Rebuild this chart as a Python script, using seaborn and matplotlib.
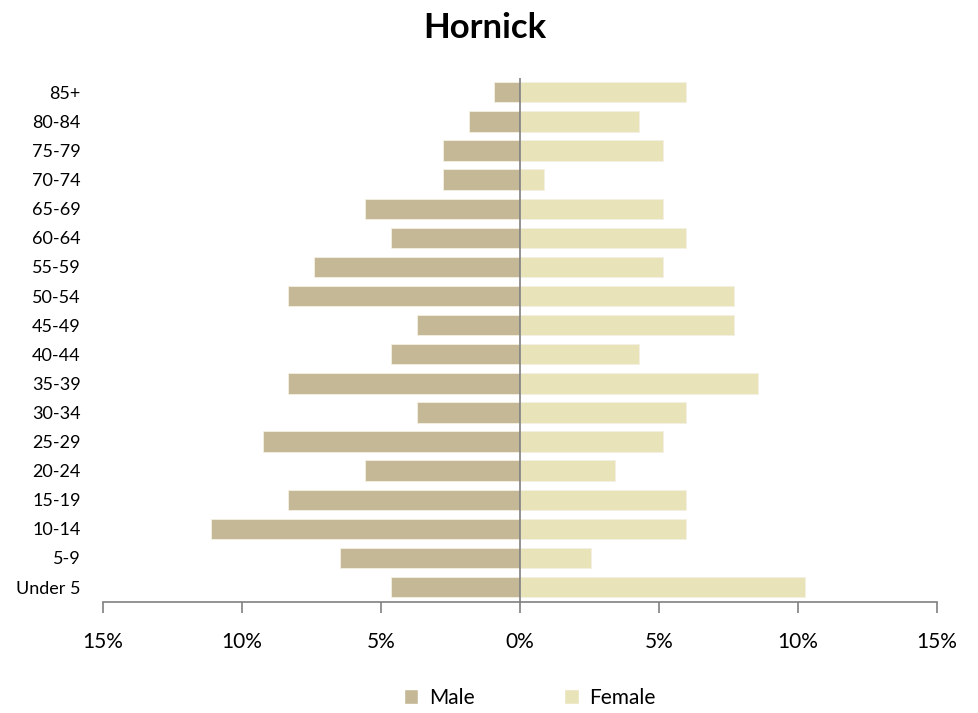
import matplotlib
matplotlib.use("Agg")
import matplotlib.pyplot as plt
import seaborn as sns
import pandas as pd
from matplotlib.patches import Patch

age_groups = ["85+", "80-84", "75-79", "70-74", "65-69", "60-64", "55-59", "50-54",
              "45-49", "40-44", "35-39", "30-34", "25-29", "20-24", "15-19", "10-14",
              "5-9", "Under 5"]
male_pct = [0.93, 1.85, 2.78, 2.78, 5.56, 4.63, 7.41, 8.33, 3.70, 4.63, 8.33, 3.70,
            9.26, 5.56, 8.33, 11.11, 6.48, 4.63]
female_pct = [5.98, 4.27, 5.13, 0.85, 5.13, 5.98, 5.13, 7.69, 7.69, 4.27, 8.55, 5.98,
              5.13, 3.42, 5.98, 5.98, 2.56, 10.26]
x_ticks = [-15, -10, -5, 0, 5, 10, 15]
x_tick_labels = ["15%", "10%", "5%", "0%", "5%", "10%", "15%"]

male_color = "#C4B896"
female_color = "#E9E3BA"

sns.set_theme(style="white")
plt.rcParams['font.family'] = ['Lato', 'DejaVu Sans']
plt.rcParams['text.color'] = 'black'
plt.rcParams['xtick.color'] = 'black'
plt.rcParams['ytick.color'] = 'black'

df = pd.DataFrame({
    "age": age_groups * 2,
    "value": [-v for v in male_pct] + female_pct,
    "sex": ["Male"] * len(age_groups) + ["Female"] * len(age_groups),
})

fig = plt.figure(figsize=(9.79, 7.13), dpi=100)
ax = fig.add_axes([0.1052, 0.1562, 0.8518, 0.7348])

sns.barplot(data=df, x="value", y="age", hue="sex", order=age_groups,
            hue_order=["Male", "Female"], palette=[male_color, female_color],
            saturation=1, dodge=False, width=0.7, orient="h", ax=ax, legend=False,
            edgecolor="#F5F1E2", linewidth=0.6)

ax.set_xlim(-15, 15)
ax.set_ylim(17.5, -0.5)
ax.axvline(0, color="#808080", linewidth=1.2, zorder=5)

ax.set_xticks(x_ticks)
ax.set_xticklabels(x_tick_labels, fontsize=15)
ax.tick_params(axis="x", direction="out", length=8, width=1.2, color="#808080",
               pad=14, bottom=True, labelcolor="black")
ax.tick_params(axis="y", length=0, pad=16, labelsize=13, labelcolor="black")
ax.set_xlabel("")
ax.set_ylabel("")

for s in ["left", "top", "right"]:
    ax.spines[s].set_visible(False)
ax.spines["bottom"].set_color("#808080")
ax.spines["bottom"].set_linewidth(1.2)

fig.suptitle("Hornick", x=0.495, y=0.983, fontsize=25, fontweight="bold", color="black")

handles = [Patch(facecolor=male_color, label="Male"),
           Patch(facecolor=female_color, label="Female")]
fig.legend(handles=handles, loc="center", bbox_to_anchor=(0.541, 0.021), ncol=2,
           frameon=False, fontsize=15, handlelength=0.7, handleheight=0.7,
           handletextpad=0.5, columnspacing=4.3, labelcolor="black")

fig.savefig("out.png", dpi=100)
